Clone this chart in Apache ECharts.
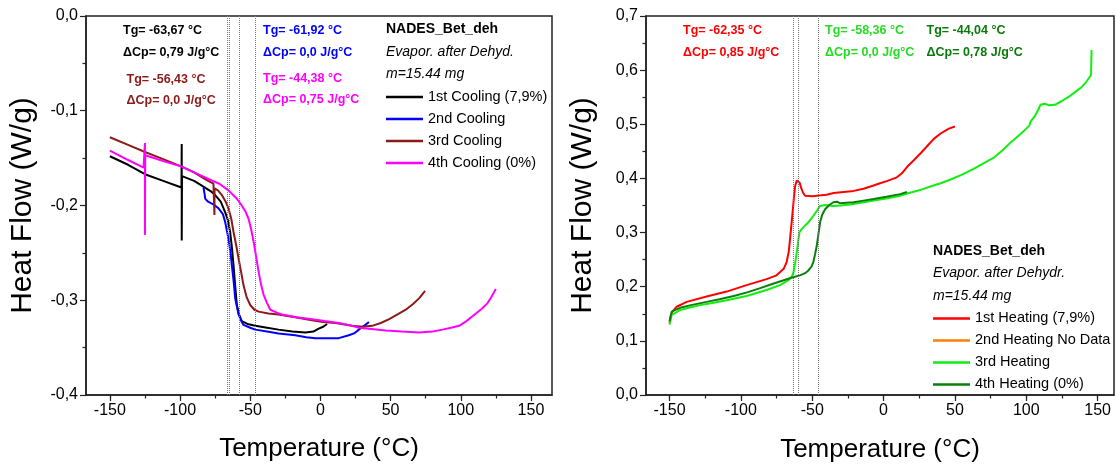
<!DOCTYPE html>
<html><head><meta charset="utf-8">
<script src="https://cdn.jsdelivr.net/npm/echarts@6/dist/echarts.min.js"></script>
<style>html,body{margin:0;padding:0;background:#fff}#c{width:1117px;height:468px}</style>
</head><body><div id="c"></div>
<script>
// ---------- DATA ----------
const xMajorTicks = [-150, -100, -50, 0, 50, 100, 150];
const xMinorTicks = [-150, -125, -100, -75, -50, -25, 0, 25, 50, 75, 100, 125, 150];
const coolingNames = ['1st Cooling (7,9%)', '2nd Cooling', '3rd Cooling', '4th Cooling (0%)'];
const heatingNames = ['1st Heating (7,9%)', '2nd Heating No Data', '3rd Heating', '4th Heating (0%)'];
const tgLinesCooling = [-66.5, -64.8, -57.8, -46.5];
const tgLinesHeating = [-63.5, -59.5, -45.5];

const cooling1 = [[-150,-0.148],[-137,-0.157],[-125,-0.167],[-112,-0.174],[-99,-0.181],[-98.8,-0.135],[-98.8,-0.237],[-98.6,-0.169],[-90,-0.174],[-84.5,-0.179],[-78,-0.185],[-75,-0.189],[-71,-0.196],[-67.9,-0.207],[-66,-0.215],[-64.3,-0.228],[-63,-0.245],[-61.9,-0.263],[-60.7,-0.285],[-59.5,-0.305],[-58,-0.315],[-56,-0.322],[-52,-0.325],[-46.4,-0.327],[-38,-0.329],[-29.8,-0.331],[-20,-0.333],[-10.7,-0.334],[-5,-0.333],[-1.2,-0.330],[2,-0.328],[4.8,-0.325]];
const cooling2 = [[-83.3,-0.181],[-82.5,-0.188],[-82,-0.193],[-80,-0.196],[-76,-0.199],[-72.6,-0.203],[-69.5,-0.209],[-67.9,-0.217],[-65.5,-0.235],[-64,-0.250],[-63.1,-0.263],[-61.8,-0.280],[-60.7,-0.298],[-58.3,-0.315],[-56,-0.323],[-54.8,-0.326],[-50,-0.329],[-46.4,-0.331],[-38,-0.333],[-29.8,-0.335],[-17.9,-0.337],[-10,-0.339],[-3.6,-0.340],[5,-0.340],[13.1,-0.340],[20.2,-0.337],[24,-0.335],[27.4,-0.331],[30,-0.328],[32,-0.326],[34.6,-0.323]];
const cooling3 = [[-150,-0.128],[-137,-0.136],[-125,-0.1435],[-112,-0.151],[-98.8,-0.159],[-90,-0.165],[-84.5,-0.170],[-80,-0.174],[-76.2,-0.177],[-75.6,-0.177],[-75.5,-0.210],[-75.4,-0.182],[-73,-0.184],[-70.2,-0.189],[-67.5,-0.196],[-65.5,-0.203],[-63.5,-0.214],[-61.9,-0.228],[-60,-0.242],[-58.3,-0.256],[-56.5,-0.270],[-54.8,-0.284],[-52.5,-0.297],[-50,-0.305],[-47,-0.310],[-44,-0.312],[-37,-0.314],[-29.8,-0.315],[-18,-0.318],[-6,-0.321],[2,-0.323],[10.7,-0.324],[22.6,-0.327],[30,-0.328],[36.9,-0.327],[43,-0.324],[49,-0.320],[55,-0.315],[60.8,-0.310],[66,-0.304],[70.3,-0.298],[74.6,-0.290]];
const cooling4 = [[-150,-0.142],[-137,-0.152],[-126,-0.160],[-125.2,-0.162],[-125,-0.134],[-125,-0.231],[-124.8,-0.147],[-112,-0.153],[-98.8,-0.159],[-90,-0.165],[-79.8,-0.172],[-72,-0.177],[-65.5,-0.184],[-60,-0.192],[-56,-0.200],[-53.5,-0.206],[-51.2,-0.214],[-49.5,-0.224],[-47.6,-0.238],[-45.8,-0.254],[-44,-0.270],[-42.2,-0.284],[-40.5,-0.294],[-38,-0.303],[-35.7,-0.310],[-31,-0.313],[-27.4,-0.315],[-17,-0.318],[-6,-0.320],[3,-0.322],[13.1,-0.324],[20,-0.326],[27.4,-0.329],[34.6,-0.330],[46.6,-0.332],[58,-0.333],[70.3,-0.334],[80,-0.333],[86.9,-0.331],[93,-0.329],[98.9,-0.327],[104,-0.322],[110.8,-0.314],[115,-0.309],[119.1,-0.303],[122,-0.296],[125,-0.288]];

const heating1 = [[-150,0.133],[-149,0.148],[-148,0.154],[-145,0.163],[-138,0.172],[-124,0.182],[-110,0.191],[-96,0.203],[-82,0.214],[-75,0.221],[-70,0.233],[-68,0.245],[-66.5,0.264],[-65.3,0.295],[-64.2,0.325],[-63,0.36],[-62,0.386],[-60.8,0.396],[-59.8,0.398],[-58.8,0.392],[-57.8,0.383],[-56.5,0.374],[-55,0.368],[-50,0.367],[-46.8,0.368],[-40,0.370],[-35,0.373],[-28,0.375],[-21,0.377],[-14,0.381],[-7,0.387],[-2.5,0.391],[2.3,0.395],[9.3,0.402],[13,0.410],[16.4,0.421],[21,0.433],[25.8,0.446],[30,0.458],[35.2,0.473],[40,0.483],[45.8,0.492],[50,0.496]];
const heating2 = [];
const heating3 = [[-150,0.130],[-149,0.142],[-148.5,0.148],[-145,0.153],[-142.6,0.157],[-135,0.162],[-128.6,0.166],[-120,0.170],[-110,0.175],[-96,0.183],[-82,0.194],[-72.6,0.203],[-66.6,0.212],[-64,0.220],[-63.1,0.227],[-62,0.243],[-60.8,0.264],[-59.8,0.285],[-58.9,0.301],[-57.5,0.306],[-56.1,0.310],[-52.7,0.319],[-49.2,0.331],[-46.5,0.341],[-44.5,0.349],[-41,0.351],[-35.2,0.349],[-30,0.350],[-23.5,0.352],[-11.8,0.357],[-2.5,0.361],[2.2,0.363],[11.6,0.368],[16.4,0.372],[25,0.378],[32.8,0.385],[40,0.391],[47,0.398],[55,0.407],[63.4,0.418],[70,0.428],[77.6,0.439],[83,0.451],[89.3,0.467],[96,0.482],[100,0.492],[102.3,0.498],[103,0.505],[104,0.502],[106,0.515],[108.2,0.526],[110,0.536],[113,0.538],[116,0.535],[120,0.536],[125,0.543],[129.4,0.550],[134,0.559],[138.9,0.569],[142,0.578],[145.4,0.591],[145.6,0.615],[145.8,0.637]];
const heating4 = [[-150,0.136],[-149,0.148],[-148.5,0.154],[-145,0.158],[-142.6,0.161],[-135,0.166],[-124,0.172],[-115,0.177],[-105,0.183],[-95,0.190],[-87,0.197],[-78,0.205],[-70,0.212],[-64,0.217],[-58.6,0.221],[-55,0.225],[-52.7,0.230],[-50.5,0.237],[-49.2,0.246],[-48,0.260],[-46.8,0.276],[-45.5,0.300],[-44.5,0.319],[-43,0.333],[-41,0.343],[-38,0.351],[-35.2,0.356],[-32.5,0.357],[-30.5,0.354],[-26,0.355],[-21,0.356],[-14,0.359],[-7,0.362],[2,0.366],[11.6,0.371],[16.4,0.375]];

const coolingColors = ['#000000', '#0000ff', '#8b1a1a', '#ff00ff'];
const heatingColors = ['#ff0000', '#ff8000', '#11ee11', '#0a800a'];

// ---------- CHART ----------
const FF = '"Liberation Sans", Arial, sans-serif';
const AX = '#222';
const fmtY = v => Math.abs(v) < 1e-9 ? '0,0' : v.toFixed(1).replace('.', ',');

function xAxes(grid, min, max, gap) {
  return [{
    gridIndex: grid, type: 'value', min: min, max: max, position: 'bottom',
    axisLine: {show: true, onZero: false, lineStyle: {color: AX, width: 1.5}},
    axisTick: {show: true, customValues: xMajorTicks, length: 6, lineStyle: {color: AX, width: 1.2}},
    axisLabel: {customValues: xMajorTicks, fontSize: 16, color: '#000', margin: 8, fontFamily: FF},
    splitLine: {show: false},
    name: 'Temperature (°C)', nameLocation: 'middle', nameGap: gap,
    nameTextStyle: {fontSize: 26, color: '#000', fontFamily: FF}
  }, {
    gridIndex: grid, type: 'value', min: min, max: max, position: 'bottom',
    axisLine: {show: false, onZero: false},
    axisTick: {show: true, customValues: xMinorTicks, length: 3.5, lineStyle: {color: AX, width: 1.2}},
    axisLabel: {show: false}, splitLine: {show: false}
  }];
}
function yAxis(grid, min, max) {
  return {
    gridIndex: grid, type: 'value', min: min, max: max, interval: 0.1,
    axisLine: {show: true, onZero: false, lineStyle: {color: AX, width: 1.5}},
    axisTick: {show: true, length: 6, lineStyle: {color: AX, width: 1.2}},
    minorTick: {show: true, splitNumber: 2, length: 3.5, lineStyle: {color: AX, width: 1.2}},
    splitLine: {show: false}, minorSplitLine: {show: false},
    axisLabel: {formatter: fmtY, fontSize: 16, color: '#000', margin: 8, fontFamily: FF},
    name: 'Heat Flow (W/g)', nameLocation: 'middle', nameGap: 48, nameRotate: 90,
    nameTextStyle: {fontSize: 30, color: '#000', fontFamily: FF}
  };
}
function mkSeries(name, data, color, xi, yi, lines) {
  const s = {
    name: name, type: 'line', data: data, xAxisIndex: xi, yAxisIndex: yi,
    symbol: 'none', showSymbol: false, smooth: false,
    lineStyle: {color: color, width: 2}, itemStyle: {color: color}
  };
  if (lines) {
    s.markLine = {
      silent: true, symbol: 'none', label: {show: false},
      lineStyle: {type: 'dotted', color: '#777', width: 1},
      data: lines.map(v => ({xAxis: v}))
    };
  }
  return s;
}
const coolingData = [cooling1, cooling2, cooling3, cooling4];
const heatingData = [heating1, heating2, heating3, heating4];
const series = [];
coolingData.forEach((d, i) => series.push(mkSeries(coolingNames[i], d, coolingColors[i], 0, 0, i === 0 ? tgLinesCooling : null)));
heatingData.forEach((d, i) => series.push(mkSeries(heatingNames[i], d, heatingColors[i], 2, 1, i === 0 ? tgLinesHeating : null)));

function txt(x, y, text, color, font) {
  return {type: 'text', x: x, y: y, silent: true,
    style: {text: text, fill: color, font: font, verticalAlign: 'middle', align: 'left'}};
}
const BF = 'bold 12.5px ' + FF;
const graphics = [
  txt(123, 30.5, 'Tg= -63,67 °C', coolingColors[0], BF),
  txt(123, 52.5, 'ΔCp= 0,79 J/g°C', coolingColors[0], BF),
  txt(126.5, 80, 'Tg= -56,43 °C', coolingColors[2], BF),
  txt(126.5, 100.5, 'ΔCp= 0,0 J/g°C', coolingColors[2], BF),
  txt(263, 30.5, 'Tg= -61,92 °C', coolingColors[1], BF),
  txt(263, 52.5, 'ΔCp= 0,0 J/g°C', coolingColors[1], BF),
  txt(263, 79, 'Tg= -44,38 °C', coolingColors[3], BF),
  txt(263, 99.5, 'ΔCp= 0,75 J/g°C', coolingColors[3], BF),
  txt(683, 31, 'Tg= -62,35 °C', heatingColors[0], BF),
  txt(683, 53, 'ΔCp= 0,85 J/g°C', heatingColors[0], BF),
  txt(825, 31, 'Tg= -58,36 °C', '#22dd22', BF),
  txt(825, 53, 'ΔCp= 0,0 J/g°C', '#22dd22', BF),
  txt(926.5, 31, 'Tg= -44,04 °C', '#0a7a0a', BF),
  txt(926.5, 53, 'ΔCp= 0,78 J/g°C', '#0a7a0a', BF),
  txt(386, 28.7, 'NADES_Bet_deh', '#000', 'bold 14px ' + FF),
  txt(386, 51.7, 'Evapor. after Dehyd.', '#000', 'italic 14px ' + FF),
  txt(386, 74, 'm=15.44 mg', '#000', 'italic 14px ' + FF),
  txt(933, 250.8, 'NADES_Bet_deh', '#000', 'bold 14px ' + FF),
  txt(933, 273, 'Evapor. after Dehydr.', '#000', 'italic 14px ' + FF),
  txt(933, 296, 'm=15.44 mg', '#000', 'italic 14px ' + FF)
];

function legend(names, left, top) {
  return {
    data: names, orient: 'vertical', left: left, top: top, padding: 0,
    itemWidth: 37, itemHeight: 2.5, itemGap: 0, icon: 'rect', selectedMode: false,
    textStyle: {fontSize: 14.5, lineHeight: 22, color: '#000', fontFamily: FF}
  };
}

const chart = echarts.init(document.getElementById('c'), null, {renderer: 'canvas'});
chart.setOption({
  animation: false,
  backgroundColor: '#fff',
  grid: [
    {left: 86, top: 16, width: 466, height: 379, show: true, borderColor: AX, borderWidth: 1.5, containLabel: false},
    {left: 646, top: 16, width: 468, height: 382, show: true, borderColor: AX, borderWidth: 1.5, containLabel: false}
  ],
  xAxis: [].concat(xAxes(0, -167, 165, 41), xAxes(1, -166.5, 161.5, 42)),
  yAxis: [yAxis(0, -0.4, 0), yAxis(1, 0, 0.7)],
  legend: [legend(coolingNames, 386, 86), legend(heatingNames, 933, 307.4)],
  graphic: graphics,
  series: series
});
</script></body></html>
